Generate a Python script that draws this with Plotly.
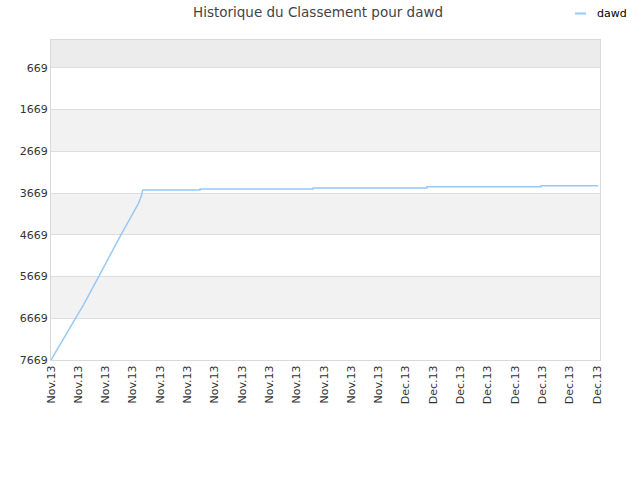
import plotly.graph_objects as go

# ---- data ----
x_pos = [0, 1, 2, 3, 4, 5, 6, 7, 8, 9, 10, 11, 12, 13, 14, 15, 16, 17, 18, 19,
         20, 21, 22, 23, 24, 25, 26, 27, 28, 29, 30, 31, 32, 33, 33.6,
         54.6, 54.6, 96, 96, 137.7, 137.7, 179.5, 179.5, 200.4]
ranks = [7669, 7560, 7455, 7350, 7240, 7130, 7020, 6910, 6800, 6690,
         6580, 6460, 6335, 6215, 6090, 5970, 5845, 5725, 5600, 5480,
         5355, 5235, 5110, 4990, 4865, 4745, 4625, 4510, 4395, 4285,
         4170, 4060, 3920, 3760, 3595,
         3595, 3571, 3571, 3545, 3545, 3516, 3516, 3492, 3492]

tick_positions = [0, 10, 20, 30, 40, 50, 60, 70, 80, 90, 100,
                  110, 120, 130, 140, 150, 160, 170, 180, 190, 200]
tick_labels = ["Nov.13"] * 13 + ["Dec.13"] * 8

y_ticks = [669, 1669, 2669, 3669, 4669, 5669, 6669, 7669]
band_edges = [(1669, 2669), (3669, 4669), (5669, 6669)]
top_band = (0, 669)

series_name = "dawd"
title_text = "Historique du Classement pour dawd"
line_color = "#99c8f5"

W, H = 640, 480

fig = go.Figure()
fig.add_trace(go.Scatter(
    x=x_pos, y=ranks, mode="lines", name=series_name,
    line=dict(color=line_color, width=1.5),
    showlegend=False,
))

shapes = []
for lo, hi in band_edges:
    shapes.append(dict(type="rect", xref="paper", yref="y", x0=0, x1=1,
                       y0=lo, y1=hi, fillcolor="#f2f2f2", line_width=0,
                       layer="below"))
shapes.append(dict(type="rect", xref="paper", yref="y", x0=0, x1=1,
                   y0=top_band[0], y1=top_band[1], fillcolor="#ececec",
                   line_width=0, layer="below"))
# legend key (small line sample, as in the reference)
leg_y = (360 - 13.5) / 320
shapes.append(dict(type="line", xref="paper", yref="paper",
                   x0=(575 - 51) / 549, x1=(586 - 51) / 549,
                   y0=leg_y, y1=leg_y,
                   line=dict(color=line_color, width=2)))

fig.update_layout(
    width=W, height=H,
    margin=dict(l=51, r=40, t=40, b=120, autoexpand=False),
    paper_bgcolor="white", plot_bgcolor="white",
    font=dict(family="DejaVu Sans", size=11, color="#333333"),
    title=dict(text=title_text, x=318 / W, xref="container",
               xanchor="center", y=1 - 12 / H, yref="container",
               yanchor="middle",
               font=dict(size=13.5, color="#444444")),
    shapes=shapes,
    annotations=[dict(text=series_name, xref="paper", yref="paper",
                      x=(595 - 51) / 549, y=leg_y,
                      xanchor="left", yanchor="middle", showarrow=False,
                      font=dict(size=11, color="#000000"))],
    showlegend=False,
)
fig.update_xaxes(
    range=[0, 201.1], tickmode="array", tickvals=tick_positions,
    ticktext=tick_labels, tickangle=-90, showgrid=False, zeroline=False,
    showline=True, linecolor="#d9d9d9", linewidth=1, mirror=True,
    ticks="", tickfont=dict(size=11, color="#333333"),
)
fig.update_yaxes(
    range=[7669, 0], tickmode="array", tickvals=y_ticks,
    showgrid=True, gridcolor="#dddddd", gridwidth=1, zeroline=False,
    showline=True, linecolor="#d9d9d9", linewidth=1, mirror=True,
    ticks="", tickfont=dict(size=11, color="#333333"),
)

fig.write_html("out.html",
               config={"displayModeBar": False},
               post_script="document.body.style.margin='0';")
